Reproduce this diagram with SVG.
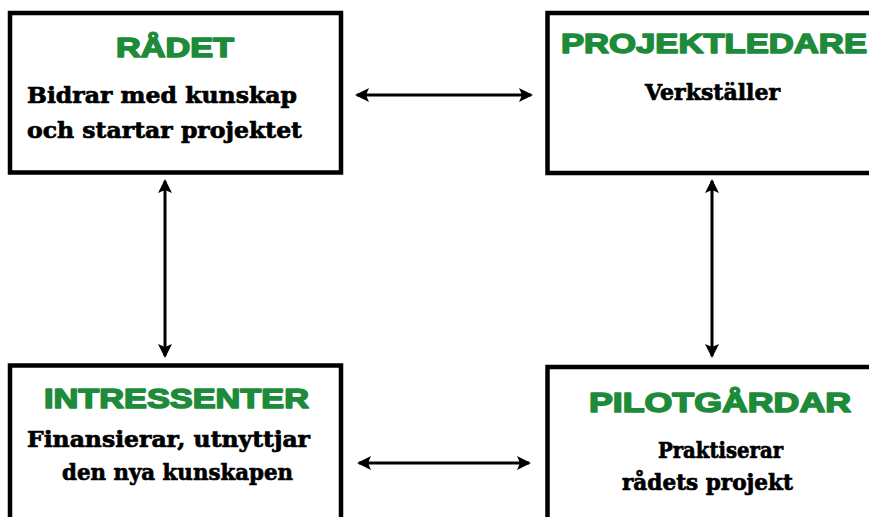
<svg xmlns="http://www.w3.org/2000/svg" width="869" height="517" viewBox="0 0 869 517">
<defs>
<marker id="ah" viewBox="0 0 14 14" refX="12" refY="7" markerWidth="14" markerHeight="14" markerUnits="userSpaceOnUse" orient="auto-start-reverse">
<path d="M0,0 L14,7 L0,14 L3,7 Z" fill="#000"/>
</marker>
<style>
.box{fill:#fff;stroke:#000;stroke-width:4.5}
.title{font-family:"Liberation Sans","DejaVu Sans",Arial,sans-serif;font-weight:900;font-size:28px;fill:#1e8b3a;stroke:#1e8b3a;stroke-width:1.6;stroke-linejoin:round}
.body{font-family:"DejaVu Serif","Liberation Serif",serif;font-weight:bold;font-size:23px;fill:#000;stroke:#000;stroke-width:0.7}
.conn{stroke:#000;stroke-width:3;fill:none;marker-start:url(#ah);marker-end:url(#ah)}
</style>
</defs>
<rect width="869" height="517" fill="#fff"/>
<g id="radet">
<rect class="box" x="10" y="13" width="331" height="159.5"/>
<text class="title" x="116" y="57" textLength="118" lengthAdjust="spacingAndGlyphs">RÅDET</text>
<text class="body" x="27" y="103" textLength="270" lengthAdjust="spacingAndGlyphs">Bidrar med kunskap</text>
<text class="body" x="27" y="138" textLength="275" lengthAdjust="spacingAndGlyphs">och startar projektet</text>
</g>
<g id="projektledare">
<rect class="box" x="547.5" y="13" width="340" height="160"/>
<text class="title" x="561" y="53" textLength="306" lengthAdjust="spacingAndGlyphs">PROJEKTLEDARE</text>
<text class="body" x="645" y="100" textLength="135" lengthAdjust="spacingAndGlyphs">Verkställer</text>
</g>
<g id="intressenter">
<rect class="box" x="10" y="365.5" width="331" height="170"/>
<text class="title" x="44" y="408" textLength="265" lengthAdjust="spacingAndGlyphs">INTRESSENTER</text>
<text class="body" x="27" y="447" textLength="283" lengthAdjust="spacingAndGlyphs">Finansierar, utnyttjar</text>
<text class="body" x="62" y="480" textLength="231" lengthAdjust="spacingAndGlyphs">den nya kunskapen</text>
</g>
<g id="pilotgardar">
<rect class="box" x="547.5" y="367" width="340" height="170"/>
<text class="title" x="589" y="412" textLength="262" lengthAdjust="spacingAndGlyphs">PILOTGÅRDAR</text>
<text class="body" x="658" y="458" textLength="125" lengthAdjust="spacingAndGlyphs">Praktiserar</text>
<text class="body" x="622" y="490" textLength="171" lengthAdjust="spacingAndGlyphs">rådets projekt</text>
</g>
<g id="connectors">
<line class="conn" x1="357" y1="95" x2="531" y2="95"/>
<line class="conn" x1="359" y1="463" x2="529" y2="463"/>
<line class="conn" x1="165" y1="181" x2="165" y2="356"/>
<line class="conn" x1="712" y1="181" x2="712" y2="356"/>
</g>
</svg>
